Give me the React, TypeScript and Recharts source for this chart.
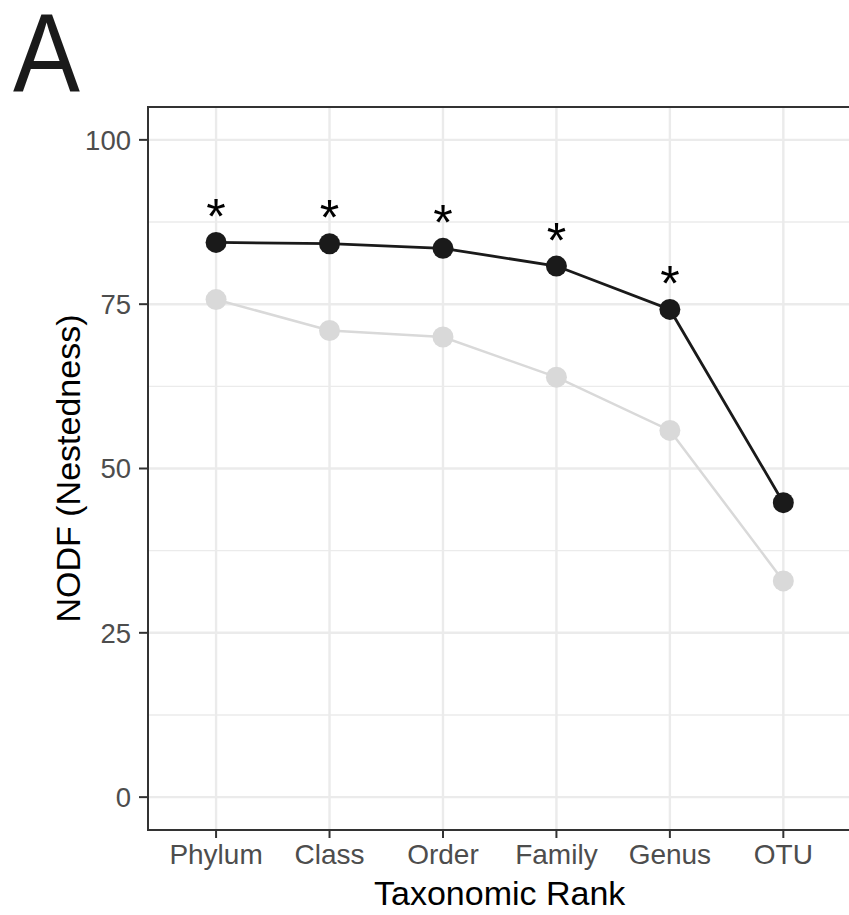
import React from "react";
import {
  LineChart,
  Line,
  XAxis,
  YAxis,
  CartesianGrid,
  ReferenceArea,
  LabelList,
  Label,
} from "recharts";

const ranks = ["Phylum", "Class", "Order", "Family", "Genus", "OTU"];
const observedNODF = [84.4, 84.2, 83.5, 80.8, 74.2, 44.8];
const nullNODF = [75.7, 71.0, 70.0, 63.9, 55.8, 32.9];
const significance = ["*", "*", "*", "*", "*", ""];
const yTicks = [0, 25, 50, 75, 100];
const yMinor = [12.5, 37.5, 62.5, 87.5];
const xPositions = [1, 2, 3, 4, 5, 6];

const data = ranks.map((r, i) => ({
  rank: r,
  pos: xPositions[i],
  observed: observedNODF[i],
  nullv: nullNODF[i],
  sig: significance[i],
}));

const FONT = "'Liberation Sans', Arial, Helvetica, sans-serif";

const renderStar = (props: any) => {
  const { x, y, value } = props;
  if (!value) return null;
  const fs = 50;
  return (
    <text
      x={x}
      y={y - 33 + fs * 0.49}
      textAnchor="middle"
      fontSize={fs}
      fontFamily={FONT}
      fill="#000"
    >
      {value}
    </text>
  );
};

export default function App() {
  return (
    <div
      style={{
        position: "absolute",
        left: 0,
        top: 0,
        width: 849,
        height: 915,
        overflow: "hidden",
        background: "#fff",
      }}
    >
      <LineChart
        width={860}
        height={915}
        data={data}
        margin={{ top: 107, right: 8.6, bottom: 0, left: 0 }}
      >
        <CartesianGrid
          horizontalValues={yMinor}
          vertical={false}
          stroke="#ebebeb"
          strokeWidth={1.4}
        />
        <CartesianGrid
          horizontalValues={yTicks}
          verticalValues={xPositions}
          stroke="#ebebeb"
          strokeWidth={2.4}
        />
        <XAxis
          type="number"
          dataKey="pos"
          domain={[0.4, 6.6]}
          ticks={xPositions}
          interval={0}
          tickFormatter={(v: number) => ranks[v - 1]}
          height={85}
          tickSize={8}
          tickMargin={6}
          axisLine={{ stroke: "#333333", strokeWidth: 2 }}
          tickLine={{ stroke: "#333333", strokeWidth: 2 }}
          tick={{ fill: "#4d4d4d", fontSize: 28, fontFamily: FONT }}
        >
          <Label
            content={(p: any) => {
              const vb = p.viewBox;
              return (
                <text
                  x={vb.x + vb.width / 2}
                  y={vb.y + 75}
                  textAnchor="middle"
                  fontSize={34}
                  fontFamily={FONT}
                  fill="#000"
                >
                  Taxonomic Rank
                </text>
              );
            }}
          />
        </XAxis>
        <YAxis
          type="number"
          domain={[-5, 105]}
          ticks={yTicks}
          interval={0}
          width={148}
          tickSize={9}
          tickMargin={8}
          axisLine={{ stroke: "#333333", strokeWidth: 2 }}
          tickLine={{ stroke: "#333333", strokeWidth: 2 }}
          tick={{ fill: "#4d4d4d", fontSize: 27.5, fontFamily: FONT }}
        >
          <Label
            content={(p: any) => {
              const vb = p.viewBox;
              const cx = vb.x + 80;
              const cy = vb.y + vb.height / 2;
              return (
                <text
                  x={cx}
                  y={cy}
                  transform={`rotate(-90, ${cx}, ${cy})`}
                  textAnchor="middle"
                  fontSize={34}
                  fontFamily={FONT}
                  fill="#000"
                >
                  NODF (Nestedness)
                </text>
              );
            }}
          />
        </YAxis>
        <ReferenceArea
          x1={0.4}
          x2={6.6}
          y1={-5}
          y2={105}
          fill="none"
          stroke="#333333"
          strokeWidth={2}
          ifOverflow="visible"
        />
        <Line
          dataKey="nullv"
          stroke="#d9d9d9"
          strokeWidth={2.5}
          dot={{ r: 10.5, fill: "#d9d9d9", stroke: "none" }}
          activeDot={false}
          isAnimationActive={false}
        />
        <Line
          dataKey="observed"
          stroke="#1a1a1a"
          strokeWidth={2.8}
          dot={{ r: 10.5, fill: "#1a1a1a", stroke: "none" }}
          activeDot={false}
          isAnimationActive={false}
        >
          <LabelList dataKey="sig" content={renderStar} />
        </Line>
      </LineChart>
      <svg
        width={849}
        height={915}
        style={{ position: "absolute", left: 0, top: 0, pointerEvents: "none" }}
      >
        <text
          x={13}
          y={90.5}
          fontSize={112}
          fontFamily={FONT}
          fill="#1a1a1a"
          textLength={67}
          lengthAdjust="spacingAndGlyphs"
        >
          A
        </text>
      </svg>
    </div>
  );
}
